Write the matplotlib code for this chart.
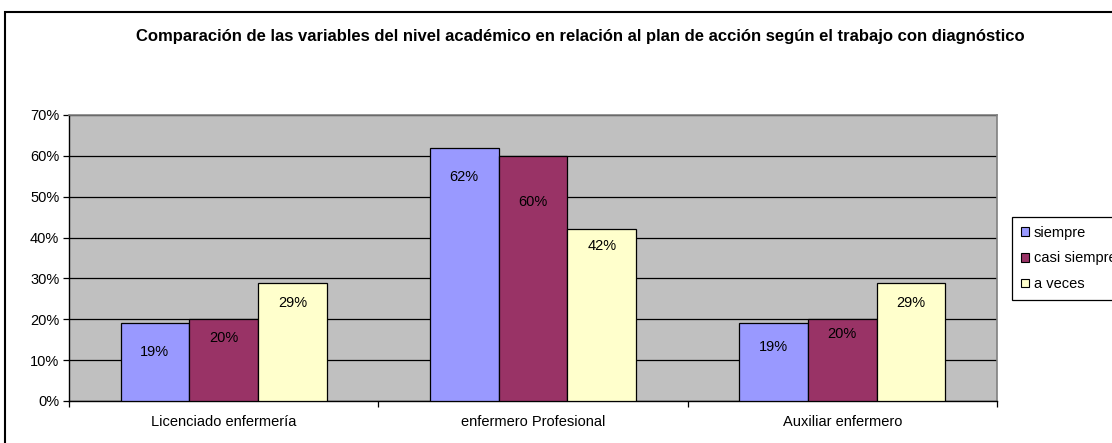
import numpy as np
import matplotlib
matplotlib.use("Agg")
import matplotlib.pyplot as plt
from matplotlib.patches import Rectangle
from matplotlib.ticker import MultipleLocator, PercentFormatter

# ── data ─────────────────────────────────────────────────────────────
categories = ["Licenciado enfermería", "enfermero Profesional", "Auxiliar enfermero"]
series_names = ["siempre", "casi siempre", "a veces"]
siempre = [19, 62, 19]
casi_siempre = [20, 60, 20]
a_veces = [29, 42, 29]

title = ("Comparación de las variables del nivel académico en relación al plan "
         "de acción según el trabajo con diagnóstico")

# ── style ────────────────────────────────────────────────────────────
colors = ["#9999FF", "#993366", "#FFFFCC"]
# label drop below bar top (pixels), as placed in the original chart
label_drop = [[29, 29, 24], [19, 46, 15], [20, 17, 20]]

plt.rcParams.update({
    "font.family": ["Liberation Sans", "DejaVu Sans"],
})

W, H = 1112, 443
fig = plt.figure(figsize=(W / 100, H / 100), dpi=100)
fig.patch.set_facecolor("white")

# outer chart border (runs off right/bottom edges like the original)
fig.add_artist(Rectangle((5 / W, -0.1), 1.2, (H - 12) / H + 0.1,
                         transform=fig.transFigure, fill=False,
                         edgecolor="black", linewidth=1.5))

ax = fig.add_axes([69 / W, 1 - 401 / H, (997 - 69) / W, (401 - 115) / H])
ax.set_facecolor("#C0C0C0")

x = np.arange(len(categories))
bw = 1 / 4.5   # gap width 150 %
data = [siempre, casi_siempre, a_veces]
for i, (vals, col, name) in enumerate(zip(data, colors, series_names)):
    pos = x - bw + i * bw
    bars = ax.bar(pos, vals, width=bw, color=col, edgecolor="black",
                  linewidth=0.9, label=name, zorder=3)
    for j, (b, v) in enumerate(zip(bars, vals)):
        ax.annotate(f"{v}%", xy=(b.get_x() + bw / 2, v),
                    xytext=(0, -label_drop[i][j] * 0.72),
                    textcoords="offset points", ha="center", va="center",
                    fontsize=10.5, color="black", zorder=4)

ax.set_xlim(-0.5, 2.5)
ax.set_ylim(0, 70)
ax.yaxis.set_major_locator(MultipleLocator(10))
ax.yaxis.set_major_formatter(PercentFormatter(decimals=0))
ax.grid(axis="y", color="black", linewidth=0.9, zorder=1)
ax.set_axisbelow(True)

ax.set_xticks([-0.5, 0.5, 1.5, 2.5])
ax.set_xticklabels([])
ax.set_xticks(x, minor=True)
ax.set_xticklabels(categories, minor=True)
ax.tick_params(axis="x", which="minor", length=0, pad=10, labelsize=10.5)
ax.tick_params(axis="x", which="major", length=4, width=0.9, direction="out")
ax.tick_params(axis="y", length=4, width=0.9, direction="out", labelsize=10.5, pad=3)

for side in ["top", "right"]:
    ax.spines[side].set_color("#808080")
    ax.spines[side].set_linewidth(1.2)
for side in ["left", "bottom"]:
    ax.spines[side].set_color("black")
    ax.spines[side].set_linewidth(1.0)

fig.text(580 / W, 1 - 37 / H, title, ha="center", va="center",
         fontsize=12, fontweight="bold")

# legend sits partly off the right edge, as in the original chart
leg = fig.legend(loc="upper left", bbox_to_anchor=(1012 / W, 1 - 217 / H),
                 fontsize=10.5, frameon=True, fancybox=False, edgecolor="black",
                 framealpha=1, handlelength=0.55, handleheight=0.55,
                 handletextpad=0.35, labelspacing=0.8, borderpad=0.6,
                 borderaxespad=0)
leg.get_frame().set_linewidth(0.9)
for h in leg.legend_handles:
    h.set_edgecolor("black")
    h.set_linewidth(0.8)

fig.savefig("out.png", dpi=100)
